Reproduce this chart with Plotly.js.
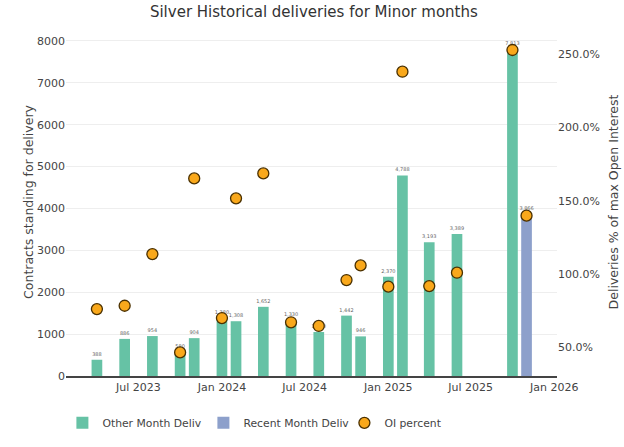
<!DOCTYPE html>
<html>
<head>
<meta charset="utf-8">
<script src="https://cdn.plot.ly/plotly-3.0.1.min.js"></script>
<style>html,body{margin:0;padding:0;background:#fff}#chart{width:624px;height:447px}</style>
</head>
<body>
<div id="chart"></div>
<script>
var otherDates = ['2023-04-01','2023-06-01','2023-08-01','2023-10-01','2023-11-01','2024-01-01','2024-02-01','2024-04-01','2024-06-01','2024-08-01','2024-10-01','2024-11-01','2025-01-01','2025-02-01','2025-04-01','2025-06-01','2025-10-01'];
var otherDeliv = [388, 886, 954, 580, 904, 1380, 1308, 1652, 1330, 1050, 1442, 946, 2370, 4788, 3193, 3389, 7813];
var recentDates = ['2025-11-01'];
var recentDeliv = [3866];
var oiDates = ['2023-04-01','2023-06-01','2023-08-01','2023-10-01','2023-11-01','2024-01-01','2024-02-01','2024-04-01','2024-06-01','2024-08-01','2024-10-01','2024-11-01','2025-01-01','2025-02-01','2025-04-01','2025-06-01','2025-10-01','2025-11-01'];
var oiPercent = [76.2, 78.5, 113.7, 46.7, 165.3, 70.1, 151.7, 168.7, 67.2, 64.7, 96.0, 106.0, 91.5, 238.0, 91.9, 101.0, 252.8, 139.9];

var FONT = 'DejaVu Sans, Verdana, sans-serif';
var barW = 23.5 * 86400000;

var traces = [
  {
    type: 'bar', name: 'Other Month Deliv', x: otherDates, y: otherDeliv,
    marker: {color: '#66c2a5'}, width: barW,
    texttemplate: '%{y:,}', textposition: 'outside', constraintext: 'none', cliponaxis: false,
    textfont: {size: 5, color: '#666', family: FONT}
  },
  {
    type: 'bar', name: 'Recent Month Deliv', x: recentDates, y: recentDeliv,
    marker: {color: '#8da0cb'}, width: barW,
    texttemplate: '%{y:,}', textposition: 'outside', constraintext: 'none', cliponaxis: false,
    textfont: {size: 5, color: '#666', family: FONT}
  },
  {
    type: 'scatter', mode: 'markers', name: 'OI percent', x: oiDates, y: oiPercent, yaxis: 'y2',
    marker: {color: '#F9A81B', size: 11, line: {color: '#4a3000', width: 1.3}}
  }
];

var layout = {
  width: 624, height: 447,
  margin: {l: 66, r: 67, t: 28, b: 71, pad: 0},
  paper_bgcolor: '#fff', plot_bgcolor: '#fff',
  font: {family: FONT, color: '#444', size: 11},
  title: {text: 'Silver Historical deliveries for Minor months', x: 0.503, xref: 'container', y: 0.973, yanchor: 'middle',
          font: {size: 15, color: '#333', family: FONT}},
  barmode: 'overlay',
  showlegend: true,
  legend: {orientation: 'h', xref: 'container', yref: 'container', x: 0.1, xanchor: 'left', y: 0.054, yanchor: 'middle',
           font: {size: 10.8, color: '#444'}, entrywidth: 96},
  xaxis: {
    type: 'date', range: ['2023-01-23', '2026-01-07'],
    tick0: '2023-01-01', dtick: 'M6', tickformat: '%b %Y',
    showgrid: false, showline: true, linecolor: '#444', linewidth: 1.5, ticks: '', zeroline: false,
    tickfont: {size: 11, color: '#444'}
  },
  yaxis: {
    range: [0, 8310], dtick: 1000, showgrid: true, gridcolor: '#eeeeee', gridwidth: 1,
    zeroline: false, showline: false, ticks: '',
    title: {text: 'Contracts standing for delivery', font: {size: 12.5, color: '#444'}, standoff: 0},
    tickfont: {size: 11, color: '#444'}
  },
  yaxis2: {
    overlaying: 'y', side: 'right', range: [30.6, 267.8], dtick: 50, tick0: 0,
    tickformat: '.1f', ticksuffix: '%', showgrid: false, zeroline: false, showline: false, ticks: '',
    title: {text: 'Deliveries % of max Open Interest', font: {size: 12.5, color: '#444'}, standoff: 10},
    tickfont: {size: 11, color: '#444'}
  }
};

Plotly.newPlot('chart', traces, layout, {displayModeBar: false, staticPlot: true});
</script>
</body>
</html>
